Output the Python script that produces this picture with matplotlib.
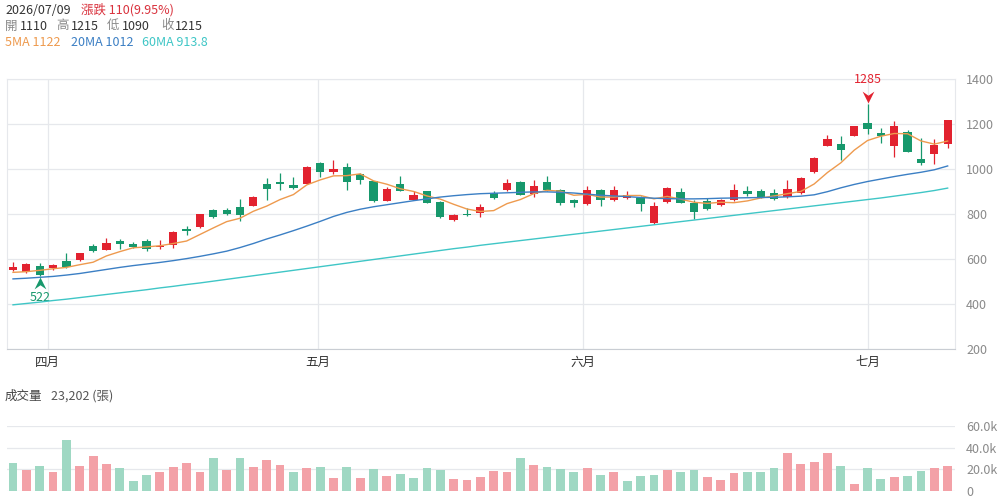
import matplotlib
matplotlib.use("Agg")
import matplotlib.pyplot as plt
from matplotlib.path import Path
from matplotlib.transforms import offset_copy
import numpy as np

plt.rcParams['font.family'] = ['Noto Sans CJK TC', 'DejaVu Sans']

# daily prices, 71 sessions ending 2026/07/09
opens = [552, 540, 567, 560, 590, 593, 658, 640, 681, 667, 678, 652, 661, 731, 740, 816, 815, 828,
         836, 934, 942, 928, 934, 1024, 985, 1009, 976, 945, 858, 931, 861, 900, 854, 773, 800, 803,
         890, 904, 943, 888, 942, 907, 863, 842, 907, 860, 869, 870, 758, 852, 898, 849, 856, 841,
         859, 899, 902, 893, 874, 893, 987, 1101, 1111, 1145, 1204, 1158, 1101, 1164, 1044, 1064, 1110]
highs = [584, 581, 582, 577, 624, 626, 664, 693, 688, 673, 687, 682, 724, 746, 800, 822, 824, 866,
         878, 960, 979, 964, 1011, 1030, 1037, 1027, 982, 946, 918, 967, 900, 902, 856, 797, 825, 845,
         902, 952, 946, 948, 967, 910, 867, 925, 910, 921, 900, 879, 853, 919, 916, 859, 868, 865,
         930, 921, 911, 911, 948, 963, 1052, 1148, 1144, 1190, 1285, 1182, 1212, 1170, 1138, 1133, 1215]
lows = [546, 538, 522, 549, 561, 591, 631, 639, 645, 649, 634, 643, 649, 707, 737, 781, 794, 769,
        834, 863, 907, 910, 931, 963, 978, 904, 934, 852, 855, 899, 860, 846, 782, 767, 788, 785,
        867, 903, 882, 873, 900, 837, 828, 839, 836, 855, 867, 813, 756, 849, 846, 776, 815, 833,
        856, 877, 871, 862, 871, 889, 982, 1099, 1037, 1143, 1153, 1113, 1053, 1073, 1016, 1022, 1090]
closes = [564, 579, 528, 574, 564, 624, 634, 669, 667, 652, 643, 658, 720, 722, 799, 787, 800, 794,
          876, 912, 931, 913, 1009, 985, 1000, 940, 949, 855, 910, 900, 882, 848, 785, 793, 795, 828,
          870, 937, 884, 925, 904, 848, 847, 907, 863, 907, 881, 845, 836, 916, 849, 809, 819, 862,
          907, 887, 874, 865, 911, 960, 1049, 1130, 1081, 1188, 1178, 1145, 1190, 1076, 1027, 1105, 1215]
prev_close = 570

volumes = [25600, 19800, 22900, 17700, 46700, 23500, 32000, 24700, 20800, 9200, 14700, 18000,
           21700, 25600, 17400, 30200, 19200, 30200, 22600, 28400, 23800, 17700, 21000, 22600,
           11900, 22600, 11900, 20200, 13700, 15600, 11600, 20800, 19200, 11000, 10100, 12800,
           18600, 17400, 30800, 24400, 22600, 20500, 18000, 21400, 14400, 17400, 8900, 14000,
           15000, 19000, 17700, 19500, 13100, 10400, 16800, 17400, 17700, 21000, 35100, 24700,
           26900, 35100, 22900, 6400, 21000, 11300, 13100, 14000, 18600, 21000, 23202]

ma5 = [540, 543, 549, 556, 562, 574, 585, 613, 632, 649, 653, 658, 668, 679, 708, 737, 765, 780,
       811, 834, 863, 885, 928, 950, 968, 969, 977, 946, 931, 911, 899, 879, 865, 842, 821, 810,
       814, 845, 863, 889, 904, 900, 882, 886, 874, 874, 881, 881, 866, 877, 865, 851, 846, 851,
       849, 857, 870, 879, 889, 899, 932, 983, 1026, 1082, 1125, 1144, 1156, 1155, 1123, 1109, 1122.6]
ma20 = [511, 514, 518, 522, 528, 535, 544, 553, 562, 570, 577, 584, 592, 601, 611, 622, 634, 650,
        668, 688, 706, 725, 745, 766, 788, 806, 820, 831, 840, 849, 858, 866, 874, 880, 885, 889,
        891, 893, 895, 897, 897, 895, 892, 887, 882, 879, 876, 872, 869, 867, 866, 866, 867, 869,
        870, 871, 872, 873, 875, 878, 884, 898, 915, 930, 943, 954, 965, 975, 984, 995, 1012]
ma60 = [396, 402, 408, 415, 421, 428, 435, 442, 449, 456, 463, 471, 478, 486, 493, 501, 509, 517,
        525, 533, 541, 549, 557, 565, 573, 581, 589, 597, 605, 613, 621, 629, 637, 645, 652, 660,
        667, 674, 681, 688, 695, 702, 709, 716, 723, 730, 737, 744, 751, 758, 765, 772, 779, 786,
        793, 800, 807, 814, 821, 828, 835, 842, 849, 856, 863, 870, 878, 886, 894, 903, 913.8]

month_labels = ['四月', '五月', '六月', '七月']
month_pos = [2.6, 22.85, 42.7, 64.0]
price_ticks = [200, 400, 600, 800, 1000, 1200, 1400]
vol_ticks = [0, 20000, 40000, 60000]
vol_tick_labels = ['0', '20.0k', '40.0k', '60.0k']

RED = '#E2222F'
GREEN = '#17986C'
RED_VOL = '#F3A1A7'
GREEN_VOL = '#9FD8C3'
C5, C20, C60 = '#EE9A4E', '#3B7FC4', '#3FC6C6'
GRID = '#E6E8EC'

W, H = 998, 501
fig = plt.figure(figsize=(W / 100, H / 100), dpi=100)


def fx(x):
    return x / W


def fy(y):
    return 1 - y / H


ax = fig.add_axes([fx(7), fy(349), fx(955) - fx(7), fy(78.5) - fy(349)])
axv = fig.add_axes([fx(7), fy(491), fx(955) - fx(7), fy(426) - fy(491)])

o = np.array(opens)
c = np.array(closes)
idx = np.arange(len(closes))
up = c >= o
colors = np.where(up, RED, GREEN)

# candles
ax.vlines(idx, lows, highs, colors=colors, lw=0.9, zorder=3)
body = np.maximum(np.abs(c - o), 3)
ax.bar(idx, body, bottom=np.minimum(o, c), width=0.62, color=colors, lw=0, zorder=4)

ax.plot(idx, ma5, color=C5, lw=1.0, zorder=5)
ax.plot(idx, ma20, color=C20, lw=1.0, zorder=5)
ax.plot(idx, ma60, color=C60, lw=1.0, zorder=5)

ax.set_xlim(-0.45, 70.55)
ax.set_ylim(200, 1400)
ax.set_yticks(price_ticks)
ax.yaxis.tick_right()
ax.tick_params(axis='y', length=0, pad=8, labelsize=9, labelcolor='#8A8A8A')
ax.set_xticks(month_pos)
ax.set_xticklabels(month_labels)
ax.tick_params(axis='x', length=0, pad=5, labelsize=9, labelcolor='#333333')
ax.grid(True, color=GRID, lw=0.9)
ax.set_axisbelow(True)
for s in ['left', 'right', 'top']:
    ax.spines[s].set_color(GRID)
ax.spines['bottom'].set_color('#C9CDD3')

# highest / lowest markers
arrow_down = Path([(-1, 1), (0, -1), (1, 1), (0, 0.3), (-1, 1)],
                  [Path.MOVETO, Path.LINETO, Path.LINETO, Path.LINETO, Path.CLOSEPOLY])
arrow_up = Path([(-1, -1), (0, 1), (1, -1), (0, -0.3), (-1, -1)],
                [Path.MOVETO, Path.LINETO, Path.LINETO, Path.LINETO, Path.CLOSEPOLY])
hi = int(np.argmax(highs))
lo = int(np.argmin(lows))
ax.plot(hi, highs[hi], marker=arrow_down, ms=8.5, color=RED, mew=0, zorder=6,
        transform=offset_copy(ax.transData, fig, y=7, units='dots'))
ax.text(hi, highs[hi], str(highs[hi]), color=RED, fontsize=9, ha='center', va='center',
        transform=offset_copy(ax.transData, fig, y=25, units='dots'))
ax.plot(lo, lows[lo], marker=arrow_up, ms=8.5, color=GREEN, mew=0, zorder=6,
        transform=offset_copy(ax.transData, fig, y=-7, units='dots'))
ax.text(lo, lows[lo], str(lows[lo]), color=GREEN, fontsize=9, ha='center', va='center',
        transform=offset_copy(ax.transData, fig, y=-21, units='dots'))

# volume
vprev = np.concatenate([[prev_close], c[:-1]])
vcolors = np.where(c >= vprev, RED_VOL, GREEN_VOL)
axv.bar(idx, volumes, width=0.66, color=vcolors, lw=0, zorder=3)
axv.set_xlim(-0.45, 70.55)
axv.set_ylim(0, 60000)
axv.set_yticks(vol_ticks)
axv.set_yticklabels(vol_tick_labels)
axv.yaxis.tick_right()
axv.tick_params(axis='y', length=0, pad=8, labelsize=9, labelcolor='#8A8A8A')
axv.set_xticks([])
axv.grid(True, axis='y', color=GRID, lw=0.9)
axv.set_axisbelow(True)
for s in axv.spines.values():
    s.set_visible(False)

# header texts
fs = 9
last = len(closes) - 1
chg = closes[last] - closes[last - 1]
pct = chg / closes[last - 1] * 100
fig.text(fx(5), fy(10), '2026/07/09', color='#333333', fontsize=fs, va='center')
fig.text(fx(81), fy(10), f'漲跌 {chg}({pct:.2f}%)', color='#D9323D', fontsize=fs, va='center')
row2 = [(5, '開', '#8A8A8A'), (20, str(opens[last]), '#333333'),
        (56, '高', '#8A8A8A'), (71, str(highs[last]), '#333333'),
        (107, '低', '#8A8A8A'), (122, str(lows[last]), '#333333'),
        (161, '收', '#8A8A8A'), (175, str(closes[last]), '#333333')]
for x, t, col in row2:
    fig.text(fx(x), fy(26), t, color=col, fontsize=fs, va='center')
fig.text(fx(5), fy(42), f'5MA {int(ma5[last])}', color=C5, fontsize=fs, va='center')
fig.text(fx(71), fy(42), f'20MA {int(ma20[last])}', color=C20, fontsize=fs, va='center')
fig.text(fx(142), fy(42), f'60MA {ma60[last]}', color=C60, fontsize=fs, va='center')

fig.text(fx(5), fy(396), '成交量', color='#444444', fontsize=fs, va='center')
fig.text(fx(51), fy(396), f'{volumes[last]:,} (張)', color='#555555', fontsize=fs, va='center')

fig.savefig('out.png', dpi=100)
